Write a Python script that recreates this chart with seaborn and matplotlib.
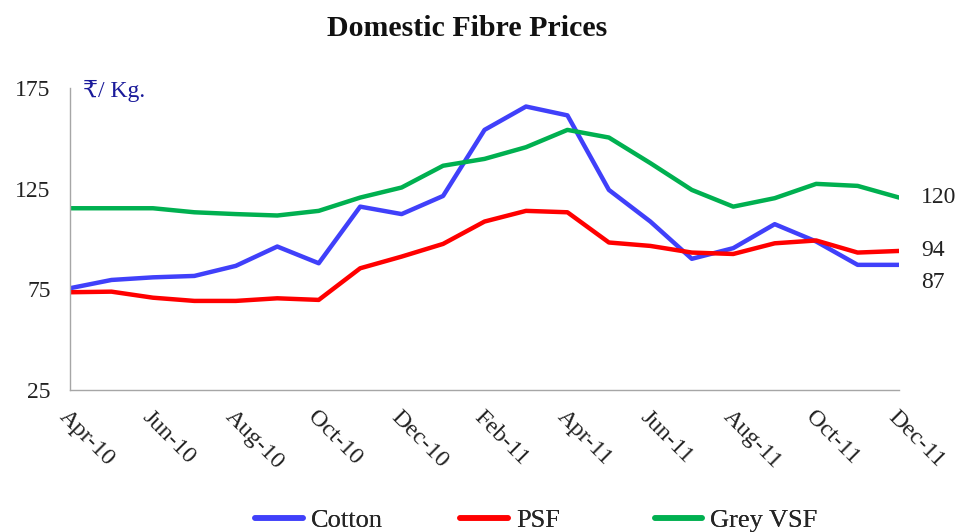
import matplotlib

matplotlib.use("Agg")
import matplotlib.pyplot as plt
import pandas as pd
import seaborn as sns

# --- data (Rs / Kg, monthly Apr-10 .. Dec-11) ---
months = [
    "Apr-10", "May-10", "Jun-10", "Jul-10", "Aug-10", "Sep-10", "Oct-10",
    "Nov-10", "Dec-10", "Jan-11", "Feb-11", "Mar-11", "Apr-11", "May-11",
    "Jun-11", "Jul-11", "Aug-11", "Sep-11", "Oct-11", "Nov-11", "Dec-11",
]
cotton = [75.5, 79.6, 80.9, 81.6, 86.6, 96.2, 87.9, 116.0, 112.3, 121.3, 154.1,
          165.7, 161.3, 124.3, 108.6, 90.1, 95.4, 107.3, 98.7, 87.1, 87.1]
psf = [73.5, 73.8, 70.8, 69.2, 69.2, 70.5, 69.7, 85.4, 91.2, 97.5, 108.6,
       113.9, 113.2, 98.2, 96.5, 93.2, 92.5, 97.8, 99.2, 93.2, 94.0]
grey_vsf = [115.2, 115.2, 115.2, 113.2, 112.3, 111.6, 113.9, 120.5, 125.5, 136.3,
            139.7, 145.5, 154.1, 150.3, 137.6, 124.3, 116.0, 120.2, 127.3, 126.3, 120.5]
series_names = ["Cotton", "PSF", "Grey VSF"]
end_labels = ["87", "94", "120"]
tick_labels = months[::2]

colors = {"Cotton": "#4040fa", "PSF": "#ff0000", "Grey VSF": "#00b050"}

df = pd.concat(
    [
        pd.DataFrame({"idx": range(len(months)), "value": vals, "series": name})
        for name, vals in zip(series_names, [cotton, psf, grey_vsf])
    ]
)

sns.set_style("white")
plt.rcParams["font.family"] = ["Liberation Serif", "DejaVu Serif", "DejaVu Sans"]

fig = plt.figure(figsize=(9.59, 5.32), dpi=100)
ax = fig.add_axes([0.073, 0.267, 0.8645, 0.568])

sns.lineplot(
    data=df, x="idx", y="value", hue="series", hue_order=series_names,
    palette=colors, linewidth=3.2, ax=ax, legend=False,
)

ax.set_xlim(0, len(months) - 1)
ax.set_ylim(25, 175)
ax.set_yticks([25, 75, 125, 175])
ax.set_xticks(range(0, len(months), 2))
ax.set_xticklabels(tick_labels, rotation=-45, ha="left", rotation_mode="anchor")
ax.set_xlabel("")
ax.set_ylabel("")

for side in ["top", "right"]:
    ax.spines[side].set_visible(False)
for side in ["left", "bottom"]:
    ax.spines[side].set_color("#a6a6a6")
    ax.spines[side].set_linewidth(1.0)
ax.tick_params(axis="both", which="both", direction="out", length=7,
               color="#a6a6a6", labelcolor="#222222", labelsize=17)
ax.tick_params(axis="x", pad=5, labelsize=17.5)
ax.tick_params(axis="y", pad=7)

# value labels at the right end of each line
ends = [cotton[-1], psf[-1], grey_vsf[-1]]
offsets = [-13, 0, 0]
for lab, yv, dy in zip(end_labels, ends, offsets):
    ax.annotate(lab, xy=(len(months) - 1, yv), xytext=(16, dy),
                textcoords="offset points", va="center", ha="left",
                fontsize=17, color="#222222", annotation_clip=False)

ax.text(0.016, 0.99, "₹/ Kg.", transform=ax.transAxes, ha="left", va="center",
        fontsize=17, color="#1a1a9a")

fig.text(0.487, 0.947, "Domestic Fibre Prices", ha="center", va="center",
         fontsize=21.5, fontweight="bold", color="#111111")

# Excel-style legend: equally spaced entries along the bottom
legend_x = [0.266, 0.480, 0.683]
for name, lx in zip(series_names, legend_x):
    h = plt.Line2D([], [], color=colors[name], linewidth=4)
    leg = fig.legend([h], [name], loc="center left", bbox_to_anchor=(lx, 0.022),
                     frameon=False, fontsize=19, handlelength=1.8,
                     handletextpad=0.3, borderpad=0, borderaxespad=0)
    fig.add_artist(leg)

fig.savefig("out.png", dpi=100)
